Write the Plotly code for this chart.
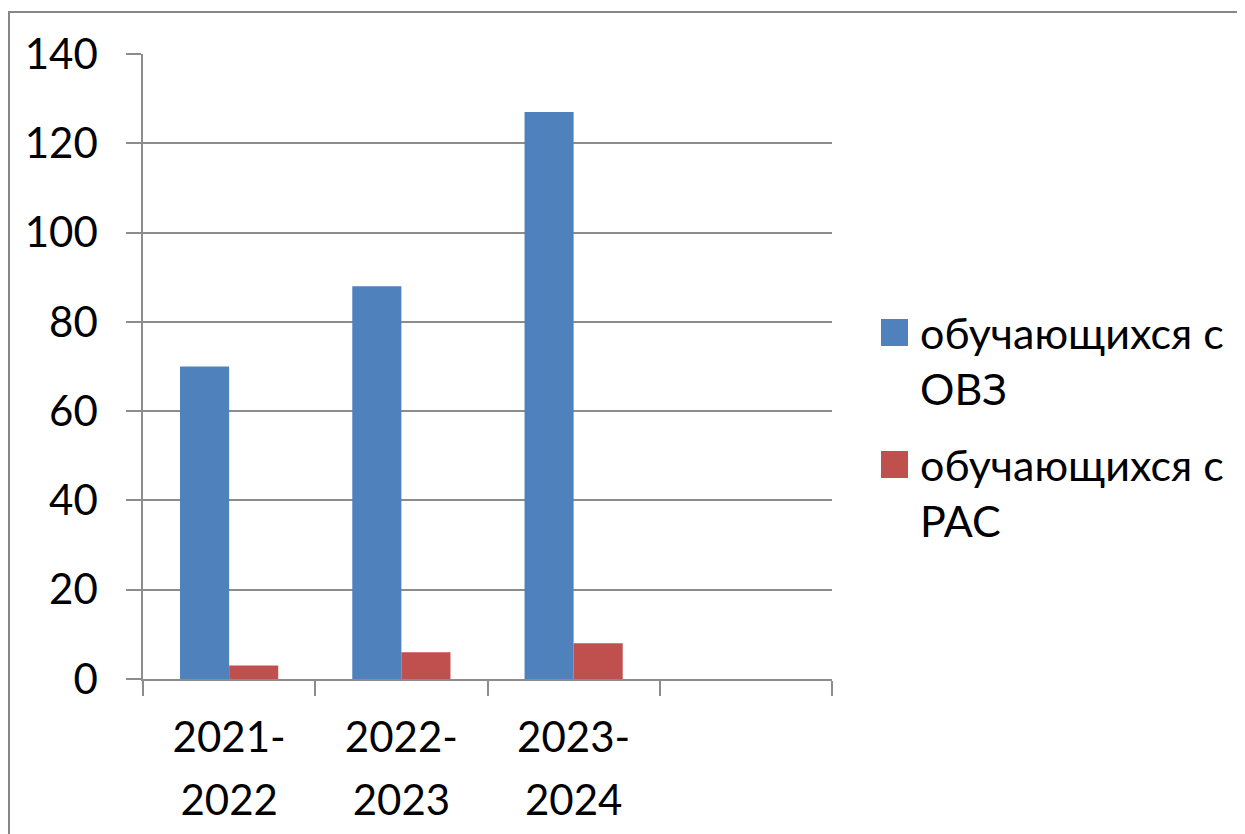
import plotly.graph_objects as go

# ---- data ----
categories = ["2021-<br>2022", "2022-<br>2023", "2023-<br>2024"]
pad_category = " "
series_names = ["обучающихся с<br>ОВЗ", "обучающихся с<br>РАС"]
ovz_values = [70, 88, 127]
ras_values = [3, 6, 8]
y_ticks = [0, 20, 40, 60, 80, 100, 120, 140]

colors = ["#4F81BD", "#C0504D"]
FONT = "Lato"
OFF = 8  # page body margin
W, H = 1245 - OFF, 834 - OFF
L, R, T, B = 143 - OFF, 413, 54 - OFF, 155
PW, PH = W - L - R, H - T - B


def px(x):
    return (x - OFF - L) / PW


def py(y):
    return (H - B - (y - OFF)) / PH


def styled(label, size=42):
    return "<br>".join(f"<span style='font-size:{size}px'>{part}</span>"
                       for part in label.split("<br>"))


fig = go.Figure()
for name, vals, col in zip(series_names, [ovz_values, ras_values], colors):
    fig.add_trace(go.Bar(x=categories, y=vals, name=name, marker_color=col,
                         marker_line_width=0, showlegend=False))
# empty fourth slot on the category axis
fig.add_trace(go.Scatter(x=[pad_category], y=[None], mode="markers",
                         showlegend=False, hoverinfo="skip"))

grey = "#8C8C8C"
fig.update_layout(
    width=W, height=H,
    margin=dict(l=L, r=R, t=T, b=B, autoexpand=False),
    paper_bgcolor="white", plot_bgcolor="white",
    barmode="group", bargap=0.43, bargroupgap=0,
    font=dict(family=FONT, color="black"),
    xaxis=dict(
        type="category",
        categoryorder="array", categoryarray=categories + [pad_category],
        tickmode="array", tickvals=categories + [pad_category],
        ticktext=[styled(c) for c in categories] + [pad_category],
        range=[-0.5, 3.5],
        showline=True, linecolor=grey, linewidth=1.5,
        ticks="outside", ticklen=15, tickcolor=grey, tickwidth=1.5,
        tickson="boundaries", showgrid=False,
        tickfont=dict(size=48, family=FONT, color="black"),
        ticklabelstandoff=14,
    ),
    yaxis=dict(
        range=[0, 140], tickvals=y_ticks,
        showline=True, linecolor=grey, linewidth=1.5,
        ticks="outside", ticklen=15, tickcolor=grey, tickwidth=1.5,
        showgrid=True, gridcolor=grey, gridwidth=1.5, zeroline=False,
        tickfont=dict(size=42, family=FONT, color="black"),
        ticklabelstandoff=20,
    ),
)

shapes = [
    # outer chart frame
    dict(type="rect", xref="paper", yref="paper",
         x0=px(9), x1=px(1300), y0=py(900), y1=py(12),
         line=dict(color="#878787", width=2), fillcolor="rgba(0,0,0,0)", layer="below"),
]
annotations = []
legend_rows = [(319, 360), (451, 492)]
for (sq_top, txt_mid), name, col in zip(legend_rows, series_names, colors):
    shapes.append(dict(type="rect", xref="paper", yref="paper",
                       x0=px(881), x1=px(908), y0=py(sq_top + 27), y1=py(sq_top),
                       line=dict(width=0), fillcolor=col))
    annotations.append(dict(xref="paper", yref="paper", x=px(918), y=py(txt_mid),
                            xanchor="left", yanchor="middle", align="left",
                            text=name, showarrow=False,
                            font=dict(size=43, family=FONT, color="black")))
fig.update_layout(shapes=shapes, annotations=annotations)

fig.write_html("out.html")
